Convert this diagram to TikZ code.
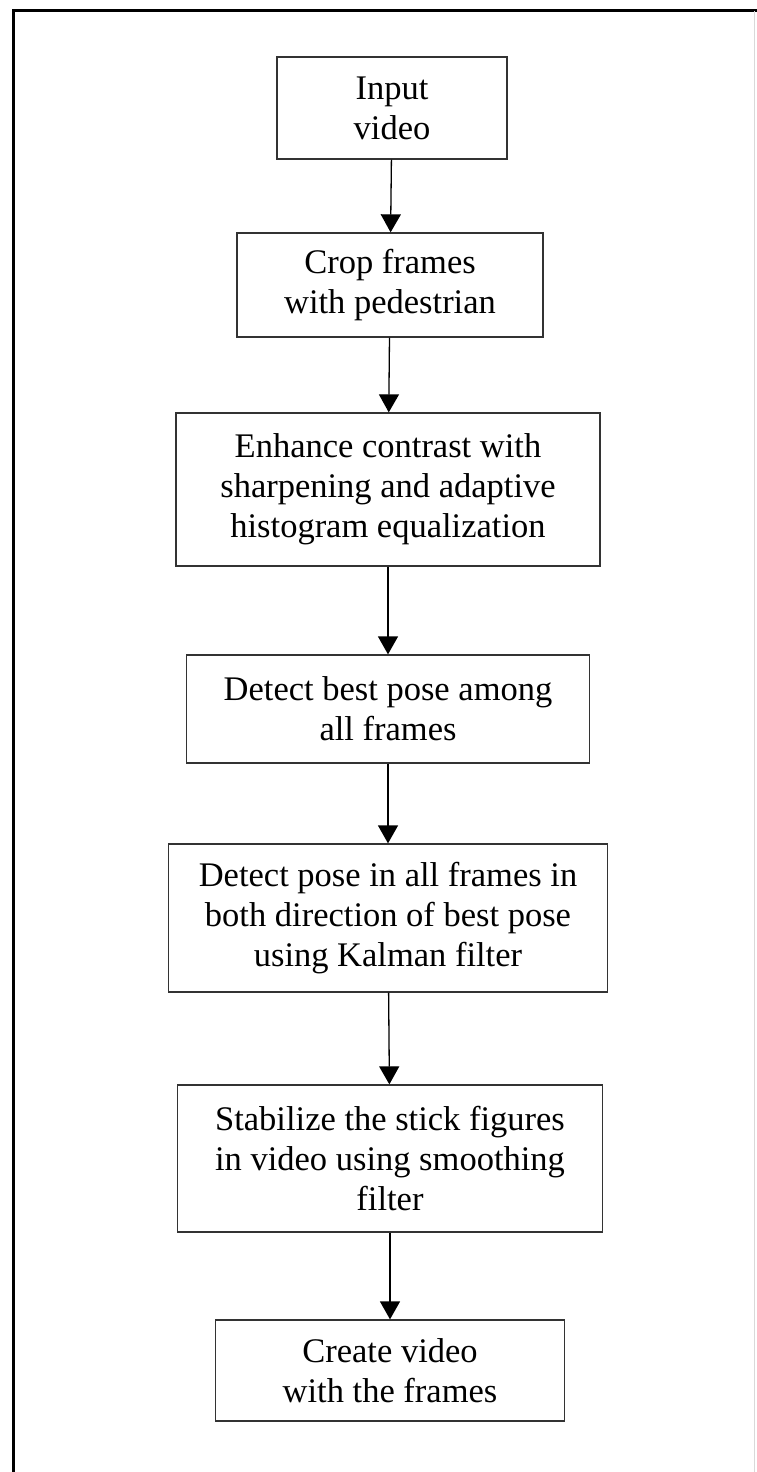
\documentclass[tikz,border=0pt]{standalone}
\usepackage{fontspec}
\setmainfont{Liberation Serif}
\usetikzlibrary{arrows.meta}
\tikzset{
  stepbox/.style={draw=black!80,line width=1.3pt,align=center,inner sep=0pt,
    font=\fontsize{34.5}{40}\selectfont},
  flow/.style={line width=1.3pt,-{Triangle[width=20pt,length=18pt]}}
}
\begin{document}
\begin{tikzpicture}[x=1pt,y=-1pt]
	\useasboundingbox (0,0) rectangle (757,1472);
	%frame
	\draw[line width=3pt] (13,1472)--(13,11)--(757,11);
	\draw[black!15,line width=1pt] (754,11)--(754,1472);
	%boxes
	\node[stepbox,minimum width=230pt,minimum height=102pt] (input) at (392,108) {Input\\video};
	\node[stepbox,minimum width=306pt,minimum height=104pt] (crop) at (390,285) {Crop frames\\with pedestrian};
	\node[stepbox,minimum width=424pt,minimum height=153pt] (enhance) at (388,489.5) {Enhance contrast with\\sharpening and adaptive\\histogram equalization};
	\node[stepbox,minimum width=403pt,minimum height=108pt] (best) at (388,709) {Detect best pose among\\all frames};
	\node[stepbox,minimum width=439pt,minimum height=148pt] (pose) at (388,918) {Detect pose in all frames in\\both direction of best pose\\using Kalman filter};
	\node[stepbox,minimum width=425pt,minimum height=147pt] (stab) at (390,1158.5) {Stabilize the stick figures\\in video using smoothing\\filter};
	\node[stepbox,minimum width=349pt,minimum height=101pt] (create) at (390,1370.5) {Create video\\with the frames};
	%arrows
	\foreach \a/\b in {input/crop,crop/enhance,enhance/best,best/pose,pose/stab,stab/create}
	\draw[flow] (\a) -- (\b);
\end{tikzpicture}
\end{document}
